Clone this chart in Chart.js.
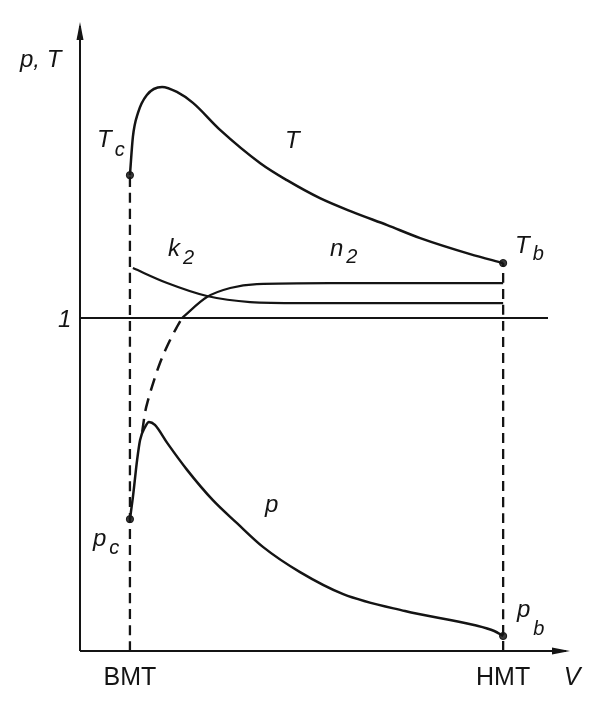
<!DOCTYPE html>
<html>
<head>
<meta charset="utf-8">
<script src="https://cdn.jsdelivr.net/npm/chart.js@4/dist/chart.umd.min.js"></script>
<style>
  html, body { margin: 0; padding: 0; background: #fff; }
  canvas { display: block; }
</style>
</head>
<body>
<canvas id="c" width="598" height="708"></canvas>
<script>
// V axis: 0 at the p,T axis, 1 at HMT. p,T axis: 1 at the reference line.
const V_BMT = 0.118
const V_HMT = 1.0

// temperature curve T
const T_V   = [0.118, 0.125, 0.137, 0.158, 0.194, 0.229, 0.267, 0.331, 0.426, 0.489, 0.567, 0.645, 0.726, 0.804, 0.922, 1.0]
const T_VAL = [1.429, 1.544, 1.616, 1.670, 1.694, 1.679, 1.646, 1.565, 1.465, 1.414, 1.360, 1.318, 1.279, 1.240, 1.192, 1.165]

// pressure curve p
const P_V   = [0.118, 0.125, 0.135, 0.142, 0.154, 0.163, 0.177, 0.206, 0.253, 0.314, 0.371, 0.433, 0.520, 0.622, 0.768, 0.931, 0.979, 1.0]
const P_VAL = [0.396, 0.462, 0.574, 0.634, 0.673, 0.688, 0.679, 0.625, 0.544, 0.453, 0.384, 0.312, 0.237, 0.171, 0.120, 0.078, 0.060, 0.045]

// k2
const K2_V   = [0.125, 0.206, 0.300, 0.402, 0.520, 1.0]
const K2_VAL = [1.150, 1.105, 1.066, 1.048, 1.045, 1.045]

// n2 (solid part above 1, dashed part below)
const N2_V   = [0.241, 0.300, 0.355, 0.418, 0.591, 1.0]
const N2_VAL = [1.0, 1.063, 1.090, 1.102, 1.105, 1.105]
const N2D_V   = [0.147, 0.154, 0.161, 0.170, 0.189, 0.213, 0.229, 0.241]
const N2D_VAL = [0.658, 0.718, 0.754, 0.793, 0.865, 0.934, 0.973, 1.0]

// end points Tc, Tb, pc, pb
const DOT_V   = [V_BMT, V_HMT, V_BMT, V_HMT]
const DOT_VAL = [1.429, 1.165, 0.396, 0.045]

const ONE_LINE_END = 1.106
const X_MAX = 1.158
const Y_MAX = 1.889

const pts = (xs, ys) => xs.map((x, i) => ({ x, y: ys[i] }))
const INK = '#141414'

function curve(data, extra) {
  return Object.assign({
    data,
    borderColor: INK,
    borderWidth: 2.5,
    pointRadius: 0,
    fill: false,
    cubicInterpolationMode: 'monotone'
  }, extra || {})
}

const datasets = [
  curve([{ x: 0, y: 1 }, { x: ONE_LINE_END, y: 1 }], { borderWidth: 1.8 }),
  curve([{ x: V_BMT, y: 0 }, { x: V_BMT, y: DOT_VAL[0] }], { borderWidth: 2.3, borderDash: [10, 6] }),
  curve([{ x: V_HMT, y: 0 }, { x: V_HMT, y: DOT_VAL[1] }], { borderWidth: 2.3, borderDash: [10, 6] }),
  curve(pts(T_V, T_VAL)),
  curve(pts(P_V, P_VAL)),
  curve(pts(K2_V, K2_VAL), { borderWidth: 2.2 }),
  curve(pts(N2_V, N2_VAL), { borderWidth: 2.2 }),
  curve(pts(N2D_V, N2D_VAL), { borderWidth: 2.5, borderDash: [13, 8] }),
  {
    type: 'scatter',
    data: pts(DOT_V, DOT_VAL),
    pointRadius: 3.6,
    pointBackgroundColor: '#3a3a3a',
    pointBorderColor: INK,
    pointBorderWidth: 1
  }
]

// text labels: [main, sub, left px, baseline px, sub offset px]
const LABELS = [
  ['p, T', '', 20, 67, 0],
  ['T', 'c', 97, 147, 9],
  ['T', '', 285, 148, 0],
  ['k', '2', 168, 256, 8],
  ['n', '2', 330, 256, 7],
  ['T', 'b', 515, 253, 7],
  ['p', '', 265, 512, 0],
  ['p', 'c', 93, 546, 8],
  ['p', 'b', 517, 617, 18],
  ['1', '', 58, 327, 0]
]

const axesAndText = {
  id: 'axesAndText',
  afterDraw(chart) {
    const ctx = chart.ctx
    const xs = chart.scales.x, ys = chart.scales.y
    const x0 = xs.getPixelForValue(0), y0 = ys.getPixelForValue(0)
    const xEnd = xs.getPixelForValue(X_MAX), yEnd = ys.getPixelForValue(Y_MAX)
    ctx.save()
    ctx.strokeStyle = INK
    ctx.fillStyle = INK
    ctx.lineWidth = 2
    ctx.beginPath()
    ctx.moveTo(x0, y0); ctx.lineTo(x0, yEnd + 4)
    ctx.moveTo(x0, y0); ctx.lineTo(xEnd - 4, y0)
    ctx.stroke()
    // arrow heads
    ctx.beginPath()
    ctx.moveTo(x0, yEnd); ctx.lineTo(x0 - 3.5, yEnd + 18); ctx.lineTo(x0 + 3.5, yEnd + 18); ctx.closePath()
    ctx.fill()
    ctx.beginPath()
    ctx.moveTo(xEnd, y0); ctx.lineTo(xEnd - 18, y0 - 3.5); ctx.lineTo(xEnd - 18, y0 + 3.5); ctx.closePath()
    ctx.fill()

    ctx.textBaseline = 'alphabetic'
    LABELS.forEach(([main, sub, lx, by, drop]) => {
      ctx.font = 'italic 24px "Liberation Sans", Arial, sans-serif'
      ctx.fillText(main, lx, by)
      if (sub) {
        const w = ctx.measureText(main).width
        ctx.font = 'italic 20px "Liberation Sans", Arial, sans-serif'
        ctx.fillText(sub, lx + w + 3, by + drop)
      }
    })
    ctx.font = '25px "Liberation Sans", Arial, sans-serif'
    ctx.textAlign = 'center'
    ctx.fillText('BMT', xs.getPixelForValue(V_BMT), 685)
    ctx.fillText('HMT', xs.getPixelForValue(V_HMT), 685)
    ctx.font = 'italic 25px "Liberation Sans", Arial, sans-serif'
    ctx.fillText('V', 572, 685)
    ctx.restore()
  }
}

new Chart(document.getElementById('c'), {
  type: 'line',
  data: { datasets },
  options: {
    responsive: false,
    animation: false,
    clip: false,
    layout: { padding: { left: 80, right: 28, top: 22, bottom: 57 } },
    scales: {
      x: { type: 'linear', min: 0, max: X_MAX, display: false },
      y: { type: 'linear', min: 0, max: Y_MAX, display: false }
    },
    plugins: { legend: { display: false }, tooltip: { enabled: false } }
  },
  plugins: [axesAndText]
})
</script>
</body>
</html>
